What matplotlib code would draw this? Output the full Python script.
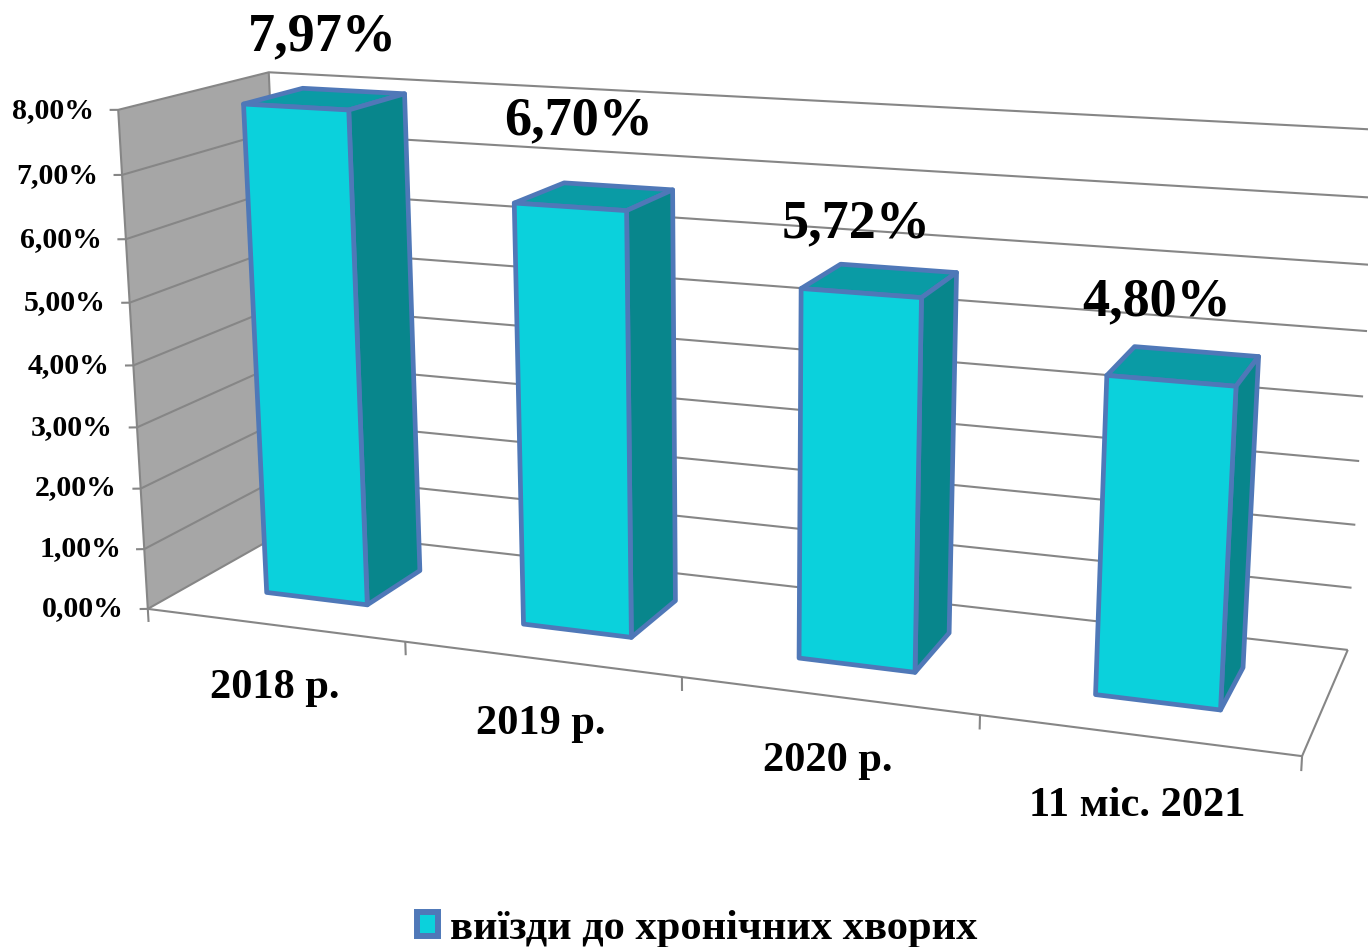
import numpy as np
import matplotlib
matplotlib.use("Agg")
import matplotlib.pyplot as plt
from matplotlib.patches import Patch
from mpl_toolkits.mplot3d.art3d import Line3DCollection, Poly3DCollection

plt.rcParams["font.family"] = ["Liberation Serif", "DejaVu Serif"]
plt.rcParams["font.weight"] = "bold"

# Chart data
categories = ["2018 р.", "2019 р.", "2020 р.", "11 міс. 2021"]
values = [7.97, 6.70, 5.72, 4.80]
y_ticks = [0, 1, 2, 3, 4, 5, 6, 7, 8]
series_name = "виїзди до хронічних хворих"

W, H = 1368, 947
BAR_X = (0.30, 0.70)
BAR_Y = (0.30, 0.71)


def fit_camera():
    # Camera matrix fitted on the corners of the chart box (world -> pixels)
    world = [(0, 0, 0), (4, 0, 0), (4, 1, 0), (0, 1, 0), (0, 0, 8), (0, 1, 8), (4, 1, 8)]
    pixels = [(149, 608), (1302, 757), (1348, 649), (288, 530), (117, 110), (270, 72), (1379, 130)]
    rows = []
    for (x, y, z), (u, v) in zip(world, pixels):
        v = H - v
        rows.append([x, y, z, 1, 0, 0, 0, 0, -u * x, -u * y, -u * z, -u])
        rows.append([0, 0, 0, 0, x, y, z, 1, -v * x, -v * y, -v * z, -v])
    p = np.linalg.svd(np.array(rows, dtype=float))[2][-1].reshape(3, 4)
    return np.array([p[0], p[1], [0, 1, 0, 0], p[2]])


def px_text(x, y, s, size, **kwargs):
    return fig.text(x / W, 1 - y / H, s, fontsize=size, ha=kwargs.pop("ha", "center"), va="center", **kwargs)


fig = plt.figure(figsize=(W / 100, H / 100), dpi=100)
ax = fig.add_axes([0, 0, 1, 1], projection="3d", computed_zorder=False)
camera = fit_camera()
ax.get_proj = lambda: camera
ax.apply_aspect = lambda position=None: None
ax.set_axis_off()
ax.set_autoscale_on(False)
ax.viewLim.intervalx = (0, W)
ax.viewLim.intervaly = (0, H)

# Left wall
wall = [[(0, 0, 0), (0, 1, 0), (0, 1, 8), (0, 0, 8)]]
ax.add_collection3d(Poly3DCollection(wall, facecolors="#A6A6A6", edgecolors="none", zorder=1), autolim=False)

# Grid lines, walls and floor edges
segments = []
for t in y_ticks:
    segments.append([(-0.026, -0.011, t), (0, 0, t), (0, 1, t), (4, 1, t)])
segments.append([(0, 0, 0), (0, 0, 8)])
segments.append([(0, 1, 0), (0, 1, 8)])
segments.append([(0, 0, 0), (4, 0, 0), (4, 1, 0)])
for i in range(len(categories) + 1):
    segments.append([(i, 0, 0), (i, 0, -0.22)])
ax.add_collection3d(Line3DCollection(segments, colors="#868686", linewidths=1.5, zorder=2), autolim=False)

# Bars
for i, v in enumerate(values):
    x0, x1 = i + BAR_X[0], i + BAR_X[1]
    y0, y1 = BAR_Y
    front = [(x0, y0, 0), (x1, y0, 0), (x1, y0, v), (x0, y0, v)]
    side = [(x1, y0, 0), (x1, y1, 0), (x1, y1, v), (x1, y0, v)]
    top = [(x0, y0, v), (x1, y0, v), (x1, y1, v), (x0, y1, v)]
    bar = Poly3DCollection(
        [side, top, front],
        facecolors=["#08868C", "#0A9BA5", "#0BD1DC"],
        edgecolors="#4F78B8",
        linewidths=3.4,
        zorder=3 + i,
    )
    ax.add_collection3d(bar, autolim=False)

# Text
value_pos = [(322, 37), (579, 121), (856, 224), (1157, 302)]
for (x, y), v in zip(value_pos, values):
    px_text(x, y, f"{v:.2f}%".replace(".", ","), 39)

cat_pos = [(275, 688), (541, 724), (828, 761), (1137, 806)]
for (x, y), c in zip(cat_pos, categories):
    px_text(x, y, c, 30.5)

tick_pos = [(124, 609), (121, 549), (117, 488), (113, 428), (110, 366), (106, 303), (102, 240), (98, 176), (94, 111)]
for (x, y), t in zip(tick_pos, y_ticks):
    px_text(x, y, f"{t:.2f}%".replace(".", ","), 21.5, ha="right")

handle = Patch(facecolor="#0BD1DC", edgecolor="#4F78B8", lw=4.3, joinstyle="round", label=series_name)
fig.legend(handles=[handle], loc="center", bbox_to_anchor=(697 / W, 1 - 929 / H), frameon=False,
           fontsize=30.6, handlelength=0.5, handleheight=0.5, handletextpad=0.29)

fig.savefig("out.png", dpi=100, facecolor="white")
